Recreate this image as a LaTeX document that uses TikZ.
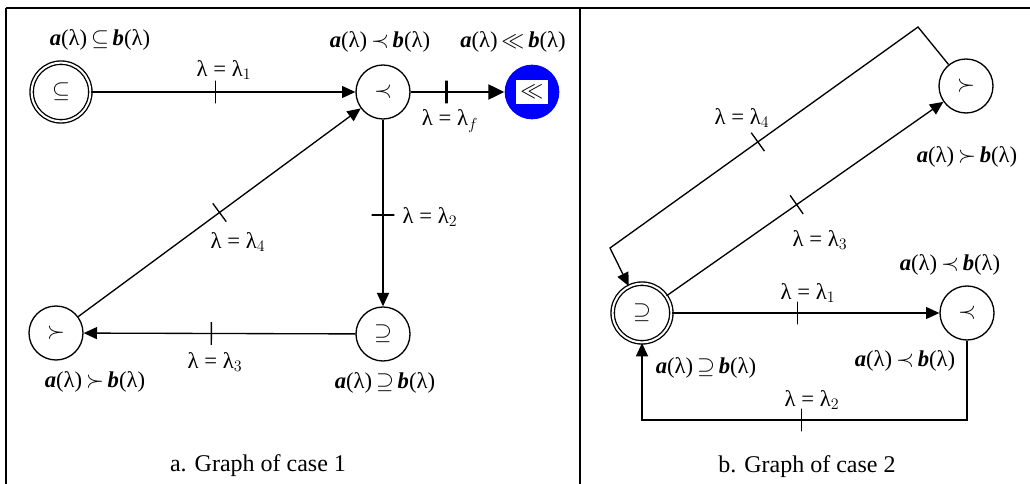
\documentclass[tikz,border=0pt]{standalone}
\usepackage{amssymb}
\usepackage{fontspec}
\setmainfont{Liberation Serif}
\usetikzlibrary{arrows.meta}
\definecolor{pureblue}{RGB}{0,0,255}
\newcommand{\abrel}[1]{\textbf{\textit{a}}(λ)\,$#1$\,\textbf{\textit{b}}(λ)}
\newcommand{\lam}[1]{λ = λ$_{#1}$}
\begin{document}
\begin{tikzpicture}[x=0.75pt,y=-0.75pt,
  state/.style={circle, draw, line width=1pt, minimum size=40.5pt, inner sep=0pt, font=\fontsize{18}{18}\selectfont},
  startstate/.style={state, double, double distance=1.5pt, minimum size=44pt},
  lbl/.style={font=\fontsize{17}{19}\selectfont, inner sep=0pt},
  captionlbl/.style={font=\fontsize{18}{20}\selectfont, inner sep=0pt},
  arr/.style={line width=1pt, -{Triangle[length=10pt,width=9pt]}},
  tickmark/.style={draw, line width=1pt, minimum width=0pt, minimum height=17pt, inner sep=0pt, sloped, rectangle},
  thicktick/.style={tickmark, line width=2.2pt},
]
\useasboundingbox (0,0) rectangle (1030,484);
% frame
\draw[line width=1.2pt] (6,8) -- (1032,8);
\draw[line width=1.2pt] (6,8) -- (6,490);
\draw[line width=1.2pt] (580,8) -- (580,490);

% ---------- panel a ----------
\node[startstate] (a0) at (61,92) {$\subseteq$};
\node[state] (a1) at (383,92) {$\prec$};
\node[circle, fill=pureblue, minimum size=41pt, inner sep=0pt] (a5) at (532,92) {};
\node[fill=white, minimum width=24pt, minimum height=18.5pt, inner sep=0pt, font=\fontsize{18}{18}\selectfont] (a5box) at (a5) {$\ll$};
\node[state] (a2) at (383,334) {$\supseteq$};
\node[state] (a3) at (56,333) {$\succ$};

\draw[arr] (a0) -- node[tickmark, pos=0.47] (t1) {} (a1);
\draw[line width=2.2pt, -{Triangle[length=12pt,width=11pt]}] (a1) -- node[thicktick, pos=0.38] (tf) {} (a5);
\draw[arr] (a1) -- node[tickmark, pos=0.51] (t2) {} (a2);
\draw[arr] (a2) -- node[tickmark, pos=0.53] (t3) {} (a3);
\draw[arr] (a3) -- node[tickmark, pos=0.50] (t4) {} (a1);

\node[lbl] (la0) at (100,40) {\abrel{\subseteq}};
\node[lbl] (la1) at (380,42) {\abrel{\prec}};
\node[lbl] (la5) at (513,42) {\abrel{\ll}};
\node[lbl] (la2) at (385,383) {\abrel{\supseteq}};
\node[lbl] (la3) at (95,382) {\abrel{\succ}};
\node[lbl] (l1) at (224,70) {\lam{1}};
\node[lbl] (lf) at (450,121) {\lam{f}};
\node[lbl] (l2) at (430,217) {\lam{2}};
\node[lbl] (l4) at (238,242) {\lam{4}};
\node[lbl] (l3) at (215,362) {\lam{3}};
\node[captionlbl] (capa) at (258,466) {a. Graph of case 1};

% ---------- panel b ----------
\node[startstate] (b0) at (642,313) {$\supseteq$};
\node[state] (b1) at (966,86) {$\succ$};
\node[state] (b2) at (967,313) {$\prec$};
\coordinate (c1) at (918,27);
\coordinate (c2) at (610,248);
\coordinate (c3) at (967,420);
\coordinate (c4) at (642,420);

\draw[arr] (b0) -- node[tickmark, pos=0.47] (u1) {} (b2);
\draw[arr] (b2.south) -- (c3) -- node[tickmark, pos=0.51] (u2) {} (c4) -- (b0.south);
\draw[arr] (b0) -- node[tickmark, pos=0.47] (u3) {} (b1);
\draw[arr] (b1) -- (c1) -- node[tickmark, pos=0.52] (u4) {} (c2) -- (b0);

\node[lbl] (m4) at (742,118) {\lam{4}};
\node[lbl] (lb1) at (967,157) {\abrel{\succ}};
\node[lbl] (m3) at (820,240) {\lam{3}};
\node[lbl] (lb2) at (950,265) {\abrel{\prec}};
\node[lbl] (m1) at (808,293) {\lam{1}};
\node[lbl] (lb0) at (706,368) {\abrel{\supseteq}};
\node[lbl] (lb2b) at (905,361) {\abrel{\prec}};
\node[lbl] (m2) at (812,400) {\lam{2}};
\node[captionlbl] (capb) at (807,467) {b. Graph of case 2};
\end{tikzpicture}
\end{document}
